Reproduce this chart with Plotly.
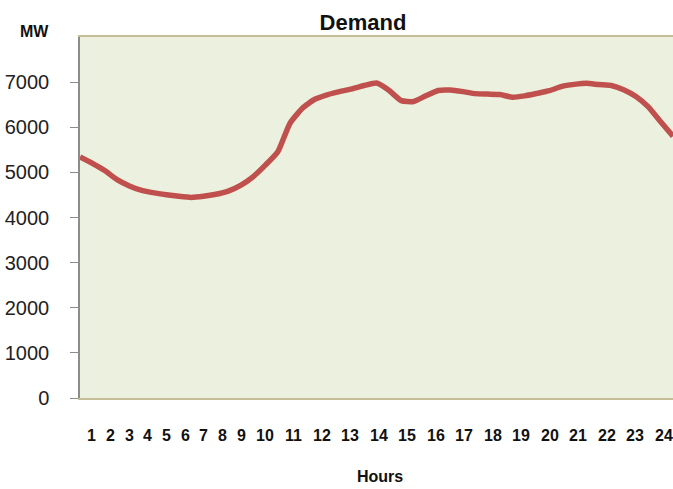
import plotly.graph_objects as go

# Half-hourly demand (MW)
hours = [i * 0.5 for i in range(49)]
demand = [5340, 5200, 5040, 4840, 4700, 4600, 4545, 4505, 4470, 4445,
          4470, 4515, 4585, 4710, 4900, 5160, 5450, 6090, 6420, 6620,
          6720, 6790, 6850, 6925, 6980, 6820, 6590, 6570, 6700, 6815,
          6825, 6790, 6745, 6735, 6725, 6665, 6695, 6750, 6810, 6905,
          6950, 6975, 6945, 6925, 6830, 6680, 6450, 6120, 5800]

hour_labels = [str(h) for h in range(1, 25)]
y_ticks = [0, 1000, 2000, 3000, 4000, 5000, 6000, 7000]

W, H = 673, 489
L, R, T, B = 80, 0, 37, 91
plot_w = W - L - R

BOLD = "Liberation Sans, Arial, sans-serif"

fig = go.Figure()
fig.add_trace(go.Scatter(
    x=hours, y=demand, mode="lines",
    line=dict(color="#C0504D", width=5.5, shape="spline", smoothing=0.5),
    hoverinfo="x+y", showlegend=False,
))

# hour labels laid out like a spaced text string under the plot
digit_w, gap = 9.8, 8.9
pos = 86.8  # px
annotations = []
for lab in hour_labels:
    w = digit_w * len(lab)
    center_px = pos + w / 2
    pos += w + gap
    xh = (center_px - L) / plot_w * 24
    annotations.append(dict(
        x=xh, y=0, xref="x", yref="paper", text=f"<b>{lab}</b>",
        showarrow=False, yanchor="top", yshift=-27,
        font=dict(family=BOLD, size=16, color="#111"),
    ))

annotations.append(dict(
    x=(380 - L) / plot_w, y=0, xref="paper", yref="paper", text="<b>Hours</b>",
    showarrow=False, yanchor="top", yshift=-68,
    font=dict(family=BOLD, size=16, color="#111"),
))
annotations.append(dict(
    x=-46 / plot_w, y=1, xref="paper", yref="paper", text="<b>MW</b>",
    showarrow=False, yanchor="bottom", xanchor="center", yshift=-5,
    font=dict(family=BOLD, size=16, color="#111"),
))

fig.update_layout(
    width=W, height=H,
    margin=dict(l=L, r=R, t=T, b=B),
    paper_bgcolor="white",
    plot_bgcolor="#EBF1DE",
    title=dict(text="<b>Demand</b>", x=363 / W, xanchor="center",
               y=1 - 22 / H, yanchor="middle",
               font=dict(family=BOLD, size=22, color="#111")),
    annotations=annotations,
    xaxis=dict(range=[0, 24], showgrid=False, zeroline=False, showticklabels=False,
               ticks="", showline=True, linecolor="#C4BD97", linewidth=1.5, mirror=True),
    yaxis=dict(range=[0, 8000], tickvals=y_ticks, showgrid=False, zeroline=False,
               ticks="outside", ticklen=8, tickcolor="#8C8C8C", tickwidth=1,
               showline=True, linecolor="#8C8C8C", linewidth=1.5,
               ticklabelstandoff=17,
               tickfont=dict(family="Liberation Sans, Arial, sans-serif", size=20, color="#222")),
)

fig.write_html("out.html", config={"displayModeBar": False},
               post_script="document.body.style.margin='0';document.body.style.overflow='hidden';")
